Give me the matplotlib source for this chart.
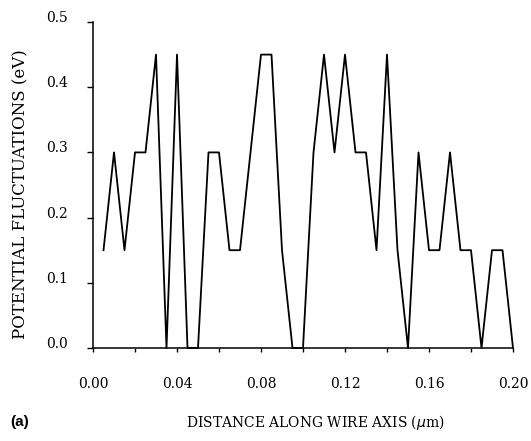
import matplotlib
matplotlib.use("Agg")
import matplotlib.pyplot as plt
from matplotlib.ticker import MultipleLocator, FixedLocator, FixedFormatter

# Data
distance_um = [0.005, 0.010, 0.015, 0.020, 0.025, 0.030, 0.035, 0.040, 0.045, 0.050,
               0.055, 0.060, 0.065, 0.070, 0.075, 0.080, 0.085, 0.090, 0.095, 0.100,
               0.105, 0.110, 0.115, 0.120, 0.125, 0.130, 0.135, 0.140, 0.145, 0.150,
               0.155, 0.160, 0.165, 0.170, 0.175, 0.180, 0.185, 0.190, 0.195, 0.200]
potential_ev = [0.15, 0.30, 0.15, 0.30, 0.30, 0.45, 0.00, 0.45, 0.00, 0.00,
                0.30, 0.30, 0.15, 0.15, 0.30, 0.45, 0.45, 0.15, 0.00, 0.00,
                0.30, 0.45, 0.30, 0.45, 0.30, 0.30, 0.15, 0.45, 0.15, 0.00,
                0.30, 0.15, 0.15, 0.30, 0.15, 0.15, 0.00, 0.15, 0.15, 0.00]

x_ticks = [0.00, 0.04, 0.08, 0.12, 0.16, 0.20]
x_ticklabels = ["0.00", "0.04", "0.08", "0.12", "0.16", "0.20"]
y_ticks = [0.0, 0.1, 0.2, 0.3, 0.4, 0.5]
y_ticklabels = ["0.0", "0.1", "0.2", "0.3", "0.4", "0.5"]

serif = ["DejaVu Serif"]

fig = plt.figure(figsize=(5.31, 4.41), dpi=100)
ax = fig.add_axes([93/531, 1 - 348/441, (513-93)/531, (348-22)/441])

ax.plot(distance_um, potential_ev, color="black", linewidth=1.3, clip_on=False)

ax.set_xlim(0, 0.2)
ax.set_ylim(0, 0.5)

for s in ["top", "right"]:
    ax.spines[s].set_visible(False)
for s in ["left", "bottom"]:
    ax.spines[s].set_linewidth(1.1)
    ax.spines[s].set_color("black")

ax.xaxis.set_major_locator(FixedLocator(x_ticks))
ax.xaxis.set_major_formatter(FixedFormatter(x_ticklabels))
ax.xaxis.set_minor_locator(MultipleLocator(0.02))
ax.yaxis.set_major_locator(FixedLocator(y_ticks))
ax.yaxis.set_major_formatter(FixedFormatter(y_ticklabels))

ax.tick_params(axis="x", which="both", direction="out", length=3, width=1, pad=18)
ax.tick_params(axis="y", which="major", direction="out", length=4, width=1, pad=14)

for lab in ax.get_xticklabels():
    lab.set_fontfamily(serif)
    lab.set_fontsize(10)
for lab in ax.get_yticklabels():
    lab.set_fontfamily(serif)
    lab.set_fontsize(10)
    lab.set_verticalalignment("baseline")

fig.text(21/531, 1 - 194/441, "POTENTIAL FLUCTUATIONS (eV)", rotation=90,
         ha="center", va="center", fontfamily=serif, fontsize=12)
fig.text(315/531, 1 - 422/441, r"DISTANCE ALONG WIRE AXIS ($\mu$m)",
         ha="center", va="center", fontfamily=serif, fontsize=10)
fig.text(10/531, 1 - 422/441, "(a)", ha="left", va="center",
         fontfamily=["Liberation Sans", "DejaVu Sans"], fontweight="bold", fontsize=11)

fig.savefig("out.png", dpi=100)
